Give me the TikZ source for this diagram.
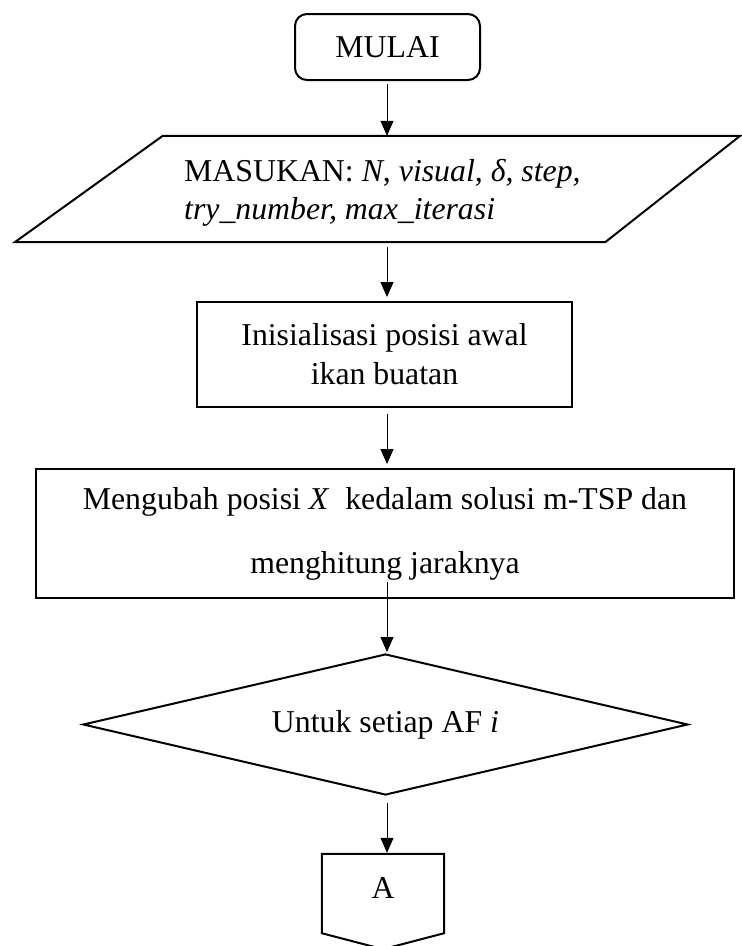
\documentclass[tikz,border=0pt]{standalone}
\usepackage{fontspec}
\setmainfont{Liberation Serif}
\usetikzlibrary{arrows.meta,shapes.geometric}
\begin{document}
\begin{tikzpicture}[x=1pt,y=-1pt,
  shapebox/.style={draw, line width=2pt, inner sep=0pt},
  arr/.style={line width=1pt, -{Triangle[length=15pt,width=13pt]}},
  every node/.style={font=\fontsize{31.8}{39}\selectfont}]
\useasboundingbox (0,0) rectangle (742,946);
\coordinate (ax) at (387,0);
% start
\node[shapebox, rounded corners=12pt, minimum width=185pt, minimum height=66pt] (mulai) at (387.5,47) {MULAI};
% input parallelogram
\node[inner sep=0pt, minimum width=725pt, minimum height=106pt] (in) at (377.5,189) {};
\draw[line width=2pt, line join=miter] ([xshift=148pt]in.north west) -- (in.north east) -- ([xshift=-135pt]in.south east) -- (in.south west) -- cycle;
\node[anchor=west, align=left, inner sep=0pt, font=\fontsize{31.8}{38}\selectfont] (intext) at (184,192.5)
  {MASUKAN: \textit{N}, \textit{visual, δ, step,}\\\textit{try\_number, max\_iterasi}};
% init box
\node[shapebox, minimum width=375pt, minimum height=105pt, align=center] (init) at (384.5,354.5)
  {Inisialisasi posisi awal\\ikan buatan};
% convert box
\node[shapebox, minimum width=698pt, minimum height=129pt, align=center, font=\fontsize{31.8}{64}\selectfont] (ubah) at (385,533.5)
  {Mengubah posisi \textit{X}\ \ kedalam solusi m-TSP dan\\menghitung jaraknya};
% decision
\node[shapebox, diamond, shape aspect=4.3, minimum width=605pt, minimum height=141pt] (af) at (385.5,724.5) {Untuk setiap AF \textit{i}};
% off-page connector
\node[inner sep=0pt, minimum width=122pt, minimum height=79pt, text height=21pt, text depth=11pt] (A) at (383,893.5) {A};
\draw[line width=2pt, line join=miter] (A.north west) -- (A.north east) -- (A.south east) -- ([yshift=-16pt]A.south) -- (A.south west) -- cycle;
% connectors
\draw[arr, shorten <=3pt] (mulai.south -| ax) -- (in.north -| ax);
\draw[arr, shorten <=5pt, shorten >=4pt] (in.south -| ax) -- (init.north -| ax);
\draw[arr, shorten <=6pt, shorten >=4pt] (init.south -| ax) -- (ubah.north -| ax);
\draw[arr, shorten <=-17pt, shorten >=1pt] (ubah.south -| ax) -- (af.north -| ax);
\draw[arr, shorten <=7pt, shorten >=1pt] (af.south -| ax) -- (A.north -| ax);
\end{tikzpicture}
\end{document}
